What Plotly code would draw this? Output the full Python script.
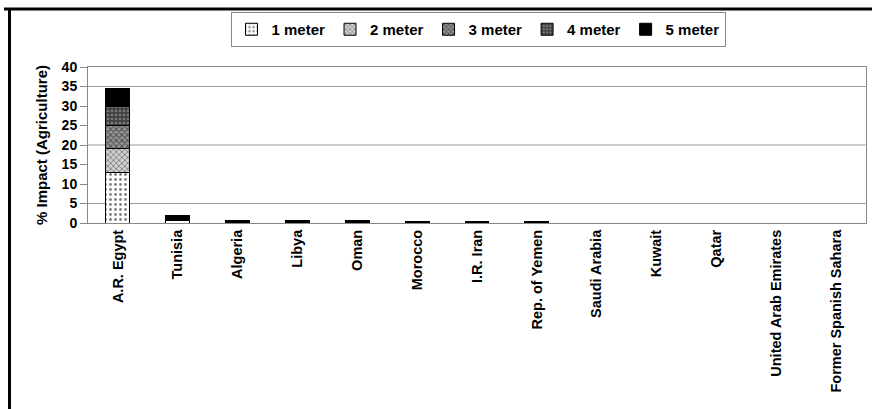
import plotly.graph_objects as go

# Countries along the x axis
countries = ["A.R. Egypt", "Tunisia", "Algeria", "Libya", "Oman", "Morocco",
             "I.R. Iran", "Rep. of Yemen", "Saudi Arabia", "Kuwait", "Qatar",
             "United Arab Emirates", "Former Spanish Sahara"]

# Incremental % impact on agriculture for each sea-level-rise scenario
impact_1m = [13.0, 0.6, 0.1, 0.1, 0.1, 0.05, 0.05, 0.05, 0, 0, 0, 0, 0]
impact_2m = [6.0, 0.1, 0.1, 0.1, 0.1, 0.05, 0.05, 0.05, 0, 0, 0, 0, 0]
impact_3m = [6.0, 0.1, 0.1, 0.1, 0.1, 0.05, 0.05, 0.05, 0, 0, 0, 0, 0]
impact_4m = [5.0, 0.1, 0.1, 0.1, 0.1, 0.05, 0.05, 0.05, 0, 0, 0, 0, 0]
impact_5m = [4.5, 1.1, 0.2, 0.2, 0.2, 0.1, 0.1, 0.1, 0, 0, 0, 0, 0]

series_names = ["1 meter", "2 meter", "3 meter", "4 meter", "5 meter"]
y_ticks = [0, 5, 10, 15, 20, 25, 30, 35, 40]
grid_levels = [5, 20, 35]

patterns = [
    dict(shape=".", fgcolor="black", bgcolor="white", size=5, solidity=0.25),
    dict(shape="x", fgcolor="#333", bgcolor="#d0d0d0", size=4, solidity=0.4),
    dict(shape="x", fgcolor="#111", bgcolor="#999", size=4, solidity=0.5),
    dict(shape="+", fgcolor="black", bgcolor="#777", size=4, solidity=0.55),
    dict(shape="", fgcolor="black", bgcolor="black"),
]

FONT = "Liberation Sans, Arial, sans-serif"
fig = go.Figure()
for name, vals, pat in zip(series_names,
                           [impact_1m, impact_2m, impact_3m, impact_4m, impact_5m],
                           patterns):
    color = "black" if name == "5 meter" else "white"
    fig.add_trace(go.Bar(
        x=countries, y=vals, name=name, width=0.4,
        marker=dict(color=color, pattern=pat,
                    line=dict(color="black", width=1)),
    ))

# plot-area geometry in pixels, used to place frame lines
W, H = 872, 409
L, R, T, B = 88, 6, 67, 186
pw, ph = W - L - R, H - T - B


def px_x(px):
    return (px - L) / pw


def px_y(py):
    return (H - B - py) / ph


shapes = []
for g in grid_levels:
    shapes.append(dict(type="line", xref="paper", yref="y", x0=0, x1=1,
                       y0=g, y1=g, line=dict(color="#9a9a9a", width=1),
                       layer="below"))
# outer frame (top and left edges)
shapes.append(dict(type="line", xref="paper", yref="paper",
                   x0=px_x(4), x1=px_x(872), y0=px_y(9), y1=px_y(9),
                   line=dict(color="black", width=3)))
shapes.append(dict(type="line", xref="paper", yref="paper",
                   x0=px_x(9.5), x1=px_x(9.5), y0=px_y(8), y1=px_y(409),
                   line=dict(color="black", width=3)))

fig.update_layout(
    width=W, height=H,
    margin=dict(l=L, r=R, t=T, b=B),
    barmode="stack", bargap=0.6,
    plot_bgcolor="white", paper_bgcolor="white",
    font=dict(family=FONT, size=12, color="black", weight="bold"),
    showlegend=True,
    legend=dict(orientation="h", x=px_x(478), y=px_y(12), xanchor="center",
                yanchor="top", bordercolor="#888", borderwidth=1,
                font=dict(size=15, weight="bold"), traceorder="normal",
                itemwidth=30, tracegroupgap=0),
    shapes=shapes,
)
fig.update_xaxes(showline=True, linecolor="#888", linewidth=1, mirror=True,
                 tickangle=-90, ticks="", showgrid=False,
                 tickfont=dict(size=14.5, weight="bold"))
fig.update_yaxes(range=[0, 40], tickvals=y_ticks, showgrid=False,
                 showline=True, linecolor="#888", linewidth=1, mirror=True,
                 ticks="outside", ticklen=7, tickcolor="#888",
                 tickfont=dict(size=14, weight="bold"),
                 title=dict(text="% Impact (Agriculture)", standoff=10,
                            font=dict(size=15, weight="bold")))
fig.write_html("out.html")
